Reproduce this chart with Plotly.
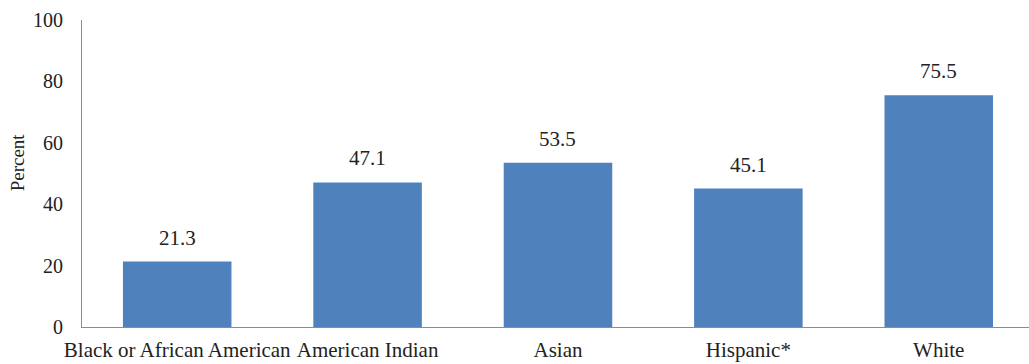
import plotly.graph_objects as go

categories = ["Black or African American", "American Indian", "Asian", "Hispanic*", "White"]
values = [21.3, 47.1, 53.5, 45.1, 75.5]
value_labels = ["21.3", "47.1", "53.5", "45.1", "75.5"]
y_ticks = [0, 20, 40, 60, 80, 100]

font_family = "Liberation Serif"
txt_color = "#222222"

fig = go.Figure(go.Bar(
    x=list(range(len(categories))),
    y=values,
    marker=dict(color="#4F81BD", line=dict(width=0)),
    width=0.57,
))

for i, (v, lab) in enumerate(zip(values, value_labels)):
    fig.add_annotation(
        x=i, y=v, text=lab, showarrow=False, yanchor="bottom",
        yshift=10, font=dict(family=font_family, size=21, color=txt_color),
    )

fig.update_layout(
    width=1029, height=364,
    margin=dict(l=82, r=0, t=20, b=37),
    paper_bgcolor="white", plot_bgcolor="white",
    showlegend=False,
    font=dict(family=font_family, size=20, color=txt_color),
)
fig.update_xaxes(
    tickmode="array",
    tickvals=list(range(len(categories))),
    ticktext=categories,
    range=[-0.5, 4.474],
    showline=True, linecolor="#8c8c8c", linewidth=1,
    showgrid=False, zeroline=False, ticks="",
    ticklabelstandoff=4,
    tickfont=dict(family=font_family, size=21, color=txt_color),
)
fig.update_yaxes(
    range=[0, 100],
    tickvals=y_ticks,
    showline=True, linecolor="#8c8c8c", linewidth=1,
    showgrid=False, zeroline=False, ticks="",
    ticklabelstandoff=14,
    tickfont=dict(family=font_family, size=20, color=txt_color),
)
fig.add_annotation(
    text="Percent", xref="paper", yref="paper", x=-0.068, y=0.535,
    xanchor="center", yanchor="middle", textangle=-90, showarrow=False,
    font=dict(family=font_family, size=19, color=txt_color),
)

fig.write_html("out.html")
